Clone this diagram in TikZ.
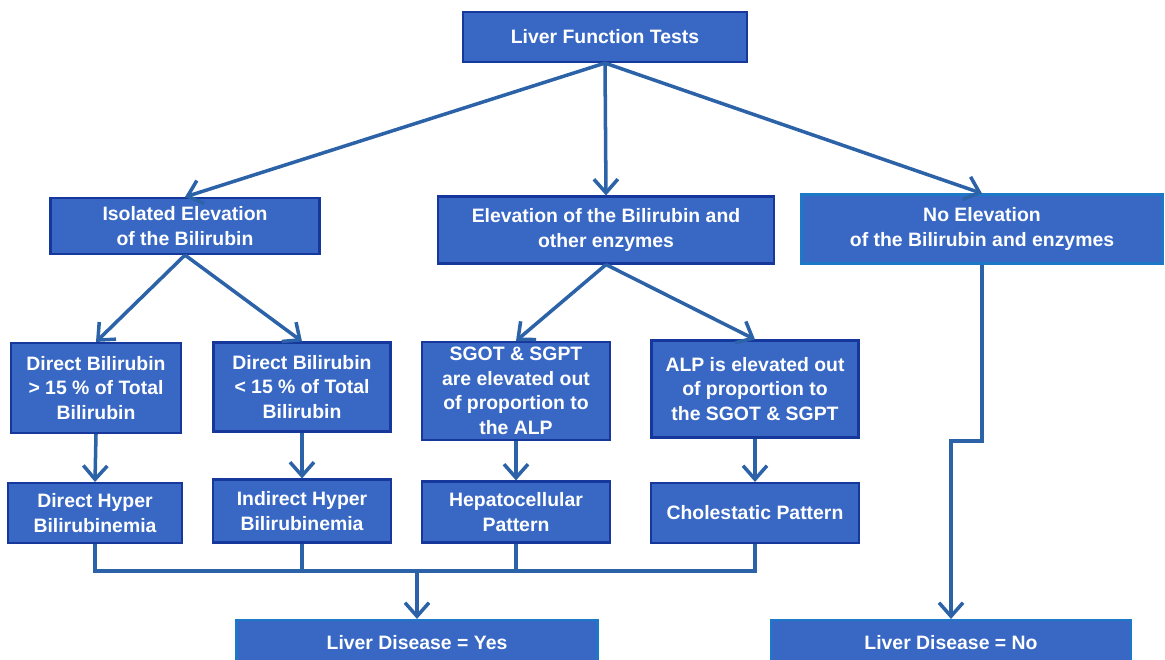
\documentclass[tikz,border=0pt]{standalone}
\usepackage{fontspec}
\setmainfont{Liberation Sans}
\usetikzlibrary{arrows.meta, positioning}
\definecolor{boxfill}{HTML}{3868C4}
\definecolor{boxedge}{HTML}{16389C}
\definecolor{softedge}{HTML}{1E78C8}
\definecolor{linkblue}{HTML}{2C62A8}
\tikzset{
  box/.style 2 args={draw=boxedge, fill=boxfill, line width=1.5pt, text=white,
    font=\bfseries\fontsize{13.8}{17.5}\selectfont, align=center, inner sep=0pt,
    minimum width=#1*0.025cm, minimum height=#2*0.025cm},
  wire/.style={draw=linkblue, line width=2.5pt},
  link/.style={wire, -{Straight Barb[length=3.4mm, width=6mm, line width=2.5pt]}}
}
\begin{document}
\begin{tikzpicture}[x=0.025cm, y=-0.025cm]
  \useasboundingbox (0,0) rectangle (1165,659);
  \clip (0,0) rectangle (1165,659);
  % Top level
  \node[box={284}{50}] (lft) at (605,37) {Liver Function Tests};
  % Second level
  \node[box={269}{56}] (iso) at (185,226) {Isolated Elevation\\ of the Bilirubin};
  \node[box={336}{67}] (elev) at (606,230) {Elevation of the Bilirubin and\\other enzymes};
  \node[box={361}{69}, draw=softedge] (noel) at (982,229) {No Elevation\\ of the Bilirubin and enzymes};
  % Third level
  \node[box={170}{90}] (dgt) at (96,388) {Direct Bilirubin\\> 15 \% of Total\\Bilirubin};
  \node[box={177}{89}] (dlt) at (302,387) {Direct Bilirubin\\< 15 \% of Total\\Bilirubin};
  \node[box={188}{98}] (sgot) at (516,391) {SGOT \& SGPT\\are elevated out\\of proportion to\\the ALP};
  \node[box={207}{97}] (alp) at (755,389) {ALP is elevated out\\of proportion to\\the SGOT \& SGPT};
  % Patterns
  \node[box={174}{60}] (dhb) at (95,513) {Direct Hyper\\Bilirubinemia};
  \node[box={178}{63}] (ihb) at (302,511) {Indirect Hyper\\Bilirubinemia};
  \node[box={188}{61}] (hep) at (516,512) {Hepatocellular\\Pattern};
  \node[box={208}{60}] (chol) at (755,513) {Cholestatic Pattern};
  % Outcomes (cut by the lower edge)
  \node[box={361}{50}, draw=softedge] (yes) at (417,645) {\raisebox{3pt}{Liver Disease = Yes}};
  \node[box={360}{50}, draw=softedge] (no) at (951,645) {\raisebox{3pt}{Liver Disease = No}};
  % Branches
  \draw[link] (lft.south) -- (iso.north);
  \draw[link] (lft.south) -- (elev.north);
  \draw[link] (lft.south) -- (noel.north);
  \draw[link] (iso.south) -- (dgt.north);
  \draw[link] (iso.south) -- (dlt.north);
  \draw[link] (elev.south) -- (sgot.north);
  \draw[link] (elev.south) -- (alp.north);
  \draw[link] (dgt.south) -- (dhb.north);
  \draw[link] (dlt.south) -- (ihb.north);
  \draw[link] (sgot.south) -- (hep.north);
  \draw[link] (alp.south) -- (chol.north);
  % Collecting bus
  \coordinate (bus) at (417,571);
  \draw[wire] (dhb.south) |- (bus) -| (chol.south);
  \draw[wire] (ihb.south) -- (ihb.south|-bus);
  \draw[wire] (hep.south) -- (hep.south|-bus);
  \draw[link] (bus) -- (yes.north);
  % No elevation path
  \coordinate (turn) at (951,441);
  \draw[link] (noel.south) |- (turn) -- (no.north);
\end{tikzpicture}
\end{document}
